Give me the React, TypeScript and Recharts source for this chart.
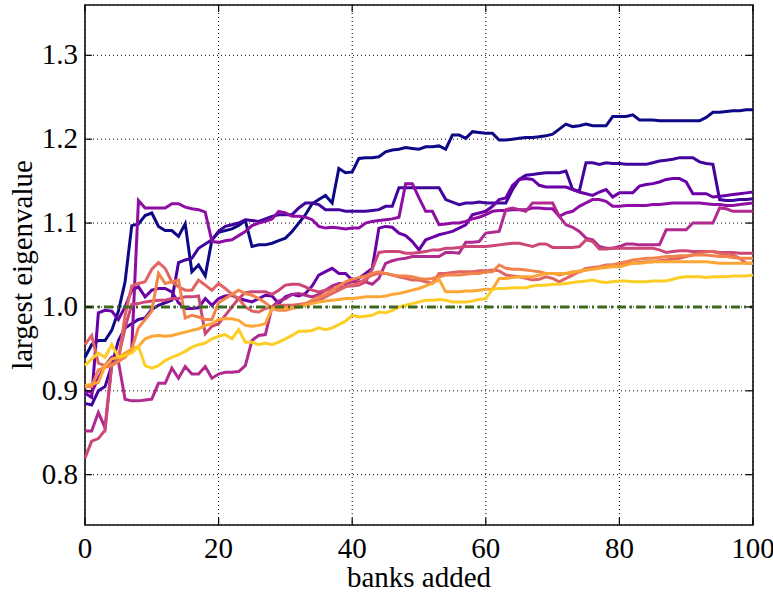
import { LineChart, Line, XAxis, YAxis, CartesianGrid, ReferenceLine, ReferenceArea } from "recharts";

// x positions: number of banks added
const banksAdded = Array.from({ length: 101 }, (_, i) => i);
const xTicks = [0, 20, 40, 60, 80, 100];
const yTicks = [0.8, 0.9, 1.0, 1.1, 1.2, 1.3];
const threshold = 1.0;

// largest eigenvalue per run
const run0 = [0.94, 0.955, 0.96, 0.96, 0.972, 0.995, 1.03, 1.097, 1.099, 1.109, 1.112, 1.096, 1.091, 1.091, 1.084, 1.099, 1.042, 1.05, 1.037, 1.08, 1.089, 1.091, 1.093, 1.097, 1.103, 1.072, 1.074, 1.074, 1.076, 1.079, 1.082, 1.09, 1.1, 1.11, 1.123, 1.128, 1.133, 1.124, 1.165, 1.16, 1.161, 1.177, 1.178, 1.178, 1.179, 1.185, 1.187, 1.188, 1.19, 1.189, 1.188, 1.191, 1.191, 1.192, 1.188, 1.205, 1.205, 1.201, 1.209, 1.208, 1.207, 1.207, 1.199, 1.199, 1.2, 1.201, 1.202, 1.202, 1.203, 1.204, 1.206, 1.212, 1.218, 1.215, 1.216, 1.218, 1.216, 1.216, 1.216, 1.227, 1.227, 1.227, 1.229, 1.223, 1.223, 1.223, 1.222, 1.222, 1.222, 1.222, 1.222, 1.222, 1.222, 1.226, 1.232, 1.232, 1.233, 1.234, 1.234, 1.235, 1.235];
const run1 = [0.885, 0.883, 0.9, 0.905, 0.93, 0.96, 0.975, 0.98, 0.985, 0.987, 0.997, 1.002, 1.005, 1.008, 1.053, 1.056, 1.058, 1.07, 1.075, 1.08, 1.09, 1.096, 1.098, 1.1, 1.104, 1.103, 1.102, 1.105, 1.108, 1.11, 1.11, 1.11, 1.118, 1.124, 1.124, 1.122, 1.116, 1.116, 1.116, 1.114, 1.114, 1.114, 1.114, 1.115, 1.116, 1.12, 1.12, 1.142, 1.142, 1.142, 1.142, 1.142, 1.142, 1.142, 1.128, 1.125, 1.122, 1.124, 1.124, 1.125, 1.124, 1.124, 1.124, 1.124, 1.14, 1.152, 1.157, 1.158, 1.159, 1.16, 1.16, 1.16, 1.162, 1.14, 1.138, 1.172, 1.172, 1.17, 1.172, 1.171, 1.171, 1.17, 1.17, 1.17, 1.17, 1.172, 1.174, 1.175, 1.176, 1.178, 1.178, 1.178, 1.173, 1.171, 1.17, 1.128, 1.127, 1.127, 1.128, 1.128, 1.129];
const run2 = [0.897, 0.892, 0.993, 0.996, 0.995, 0.985, 1.0, 1.02, 1.024, 1.012, 1.02, 1.022, 1.022, 1.018, 1.005, 0.998, 0.998, 0.999, 1.01, 1.002, 1.01, 1.013, 1.014, 1.01, 1.008, 1.006, 1.01, 1.014, 1.013, 1.004, 1.012, 1.015, 1.013, 1.016, 1.025, 1.038, 1.042, 1.046, 1.04, 1.04, 1.032, 1.034, 1.04, 1.046, 1.094, 1.096, 1.095, 1.088, 1.085, 1.078, 1.068, 1.08, 1.083, 1.086, 1.088, 1.09, 1.094, 1.098, 1.11, 1.112, 1.114, 1.12, 1.128, 1.13, 1.145, 1.152, 1.153, 1.152, 1.145, 1.143, 1.143, 1.143, 1.143, 1.14, 1.137, 1.135, 1.133, 1.137, 1.14, 1.131, 1.136, 1.136, 1.136, 1.144, 1.146, 1.147, 1.149, 1.152, 1.153, 1.153, 1.149, 1.135, 1.135, 1.135, 1.131, 1.132, 1.133, 1.134, 1.135, 1.136, 1.137];
const run3 = [0.9, 0.898, 0.915, 0.93, 0.94, 0.94, 0.942, 0.95, 1.127, 1.118, 1.118, 1.118, 1.118, 1.123, 1.123, 1.119, 1.117, 1.116, 1.113, 1.078, 1.077, 1.079, 1.08, 1.085, 1.09, 1.097, 1.1, 1.102, 1.105, 1.114, 1.112, 1.108, 1.108, 1.107, 1.104, 1.096, 1.094, 1.095, 1.094, 1.093, 1.094, 1.094, 1.1, 1.102, 1.103, 1.104, 1.105, 1.107, 1.147, 1.147, 1.13, 1.114, 1.114, 1.098, 1.099, 1.1, 1.1, 1.102, 1.105, 1.107, 1.11, 1.114, 1.115, 1.115, 1.116, 1.116, 1.116, 1.118, 1.118, 1.117, 1.117, 1.108, 1.112, 1.114, 1.12, 1.124, 1.128, 1.128, 1.126, 1.12, 1.12, 1.121, 1.121, 1.121, 1.121, 1.122, 1.122, 1.123, 1.124, 1.124, 1.124, 1.124, 1.124, 1.123, 1.122, 1.122, 1.121, 1.121, 1.122, 1.123, 1.124];
const run4 = [0.852, 0.852, 0.874, 0.856, 0.932, 0.935, 0.89, 0.888, 0.888, 0.889, 0.89, 0.909, 0.909, 0.927, 0.915, 0.929, 0.92, 0.92, 0.929, 0.915, 0.92, 0.922, 0.922, 0.923, 0.93, 0.96, 0.966, 0.967, 1.0, 1.007, 1.01, 1.015, 1.016, 1.014, 1.012, 1.015, 1.02, 1.025, 1.028, 1.028, 1.03, 1.03, 1.03, 1.027, 1.034, 1.052, 1.055, 1.057, 1.058, 1.06, 1.06, 1.06, 1.06, 1.06, 1.065, 1.065, 1.064, 1.077, 1.077, 1.078, 1.088, 1.089, 1.09, 1.116, 1.118, 1.116, 1.114, 1.124, 1.124, 1.124, 1.124, 1.108, 1.098, 1.095, 1.09, 1.082, 1.08, 1.072, 1.07, 1.07, 1.072, 1.075, 1.075, 1.074, 1.074, 1.074, 1.074, 1.092, 1.092, 1.092, 1.092, 1.1, 1.1, 1.1, 1.1, 1.118, 1.117, 1.114, 1.114, 1.114, 1.114];
const run5 = [0.82, 0.84, 0.843, 0.853, 0.93, 0.94, 0.975, 1.003, 1.004, 1.006, 1.007, 1.008, 1.008, 1.01, 1.01, 1.012, 1.012, 1.013, 0.968, 0.977, 0.98, 0.99, 1.0, 1.01, 1.017, 1.018, 1.018, 1.018, 1.015, 1.02, 1.026, 1.027, 1.027, 1.024, 1.02, 1.018, 1.02, 1.022, 1.022, 1.025, 1.025, 1.026, 1.03, 1.045, 1.065, 1.066, 1.066, 1.066, 1.064, 1.064, 1.065, 1.066, 1.068, 1.068, 1.07, 1.07, 1.071, 1.072, 1.072, 1.072, 1.072, 1.073, 1.074, 1.075, 1.076, 1.076, 1.074, 1.072, 1.075, 1.075, 1.071, 1.071, 1.071, 1.071, 1.072, 1.08, 1.078, 1.069, 1.069, 1.07, 1.07, 1.07, 1.07, 1.07, 1.07, 1.07, 1.068, 1.065, 1.066, 1.067, 1.067, 1.066, 1.066, 1.066, 1.066, 1.065, 1.065, 1.065, 1.064, 1.064, 1.064];
const run6 = [0.955, 0.966, 0.933, 0.93, 0.932, 0.935, 0.99, 1.025, 1.028, 1.03, 1.045, 1.053, 1.046, 1.03, 1.024, 1.02, 1.02, 1.032, 1.026, 1.02, 1.028, 1.022, 1.015, 1.01, 1.0, 0.995, 0.994, 0.998, 1.0, 1.002, 1.002, 1.002, 1.003, 1.004, 1.006, 1.008, 1.012, 1.016, 1.02, 1.024, 1.026, 1.028, 1.034, 1.038, 1.04, 1.04, 1.038, 1.036, 1.034, 1.032, 1.032, 1.03, 1.028, 1.04, 1.04, 1.041, 1.042, 1.042, 1.042, 1.043, 1.043, 1.044, 1.043, 1.038, 1.037, 1.036, 1.034, 1.032, 1.033, 1.036, 1.034, 1.03, 1.034, 1.038, 1.042, 1.046, 1.047, 1.048, 1.05, 1.05, 1.051, 1.052, 1.052, 1.053, 1.054, 1.054, 1.055, 1.056, 1.057, 1.058, 1.06, 1.062, 1.064, 1.066, 1.066, 1.064, 1.063, 1.062, 1.058, 1.052, 1.052];
const run7 = [0.905, 0.905, 0.925, 0.928, 0.93, 0.935, 0.94, 0.95, 0.975, 0.985, 0.995, 1.04, 1.028, 1.03, 1.032, 0.987, 0.99, 0.988, 0.985, 0.985, 1.005, 1.01, 1.015, 1.02, 1.016, 1.014, 1.01, 1.005, 0.998, 0.996, 0.996, 0.998, 1.0, 1.004, 1.008, 1.012, 1.015, 1.02, 1.025, 1.03, 1.033, 1.035, 1.037, 1.04, 1.042, 1.04, 1.038, 1.037, 1.037, 1.036, 1.034, 1.033, 1.034, 1.036, 1.038, 1.038, 1.038, 1.039, 1.04, 1.04, 1.042, 1.042, 1.05, 1.046, 1.045, 1.045, 1.044, 1.043, 1.042, 1.04, 1.04, 1.038, 1.04, 1.04, 1.042, 1.044, 1.046, 1.047, 1.049, 1.05, 1.052, 1.054, 1.056, 1.057, 1.058, 1.058, 1.059, 1.06, 1.06, 1.061, 1.061, 1.062, 1.062, 1.062, 1.061, 1.06, 1.06, 1.059, 1.058, 1.058, 1.058];
const run8 = [0.906, 0.908, 0.91, 0.93, 0.938, 0.94, 0.945, 0.95, 0.953, 0.962, 0.965, 0.966, 0.965, 0.966, 0.968, 0.97, 0.972, 0.974, 0.978, 0.98, 0.985, 0.986, 0.986, 0.984, 0.978, 0.977, 0.978, 0.98, 0.998, 0.998, 0.998, 0.999, 1.0, 1.002, 1.004, 1.006, 1.007, 1.008, 1.009, 1.01, 1.01, 1.011, 1.012, 1.012, 1.012, 1.013, 1.015, 1.016, 1.018, 1.02, 1.022, 1.025, 1.028, 1.033, 1.018, 1.018, 1.018, 1.019, 1.019, 1.02, 1.021, 1.021, 1.034, 1.034, 1.035, 1.036, 1.036, 1.036, 1.038, 1.04, 1.04, 1.04, 1.04, 1.042, 1.043, 1.044, 1.045, 1.046, 1.047, 1.048, 1.048, 1.05, 1.052, 1.052, 1.053, 1.054, 1.054, 1.054, 1.054, 1.054, 1.054, 1.054, 1.054, 1.054, 1.053, 1.052, 1.052, 1.052, 1.052, 1.052, 1.052];
const run9 = [0.93, 0.938, 0.945, 0.94, 0.955, 0.94, 0.942, 0.945, 0.953, 0.93, 0.927, 0.93, 0.936, 0.94, 0.943, 0.947, 0.952, 0.955, 0.957, 0.962, 0.965, 0.967, 0.962, 0.973, 0.958, 0.958, 0.955, 0.957, 0.955, 0.958, 0.962, 0.966, 0.971, 0.971, 0.972, 0.975, 0.973, 0.975, 0.979, 0.983, 0.99, 0.988, 0.989, 0.99, 0.994, 0.993, 0.996, 1.0, 1.002, 1.004, 1.006, 1.008, 1.008, 1.009, 1.008, 1.006, 1.006, 1.006, 1.007, 1.009, 1.01, 1.021, 1.022, 1.022, 1.023, 1.023, 1.023, 1.025, 1.026, 1.026, 1.027, 1.027, 1.028, 1.029, 1.03, 1.031, 1.032, 1.03, 1.029, 1.03, 1.031, 1.031, 1.03, 1.03, 1.03, 1.031, 1.031, 1.031, 1.033, 1.035, 1.036, 1.036, 1.036, 1.035, 1.036, 1.036, 1.036, 1.037, 1.037, 1.037, 1.038];

const runs = [run0, run1, run2, run3, run4, run5, run6, run7, run8, run9];
// plasma colormap, 10 steps
const runColors = ["#0d0887", "#41049d", "#6a00a8", "#8f0da4", "#b12a90", "#cc4778", "#e16462", "#f2844b", "#fca636", "#fcce25"];

const data = banksAdded.map((b, i) => {
  const row: Record<string, number> = { banks: b };
  runs.forEach((r, k) => { row["run" + k] = r[i]; });
  return row;
});

const W = 773;
const H = 592;
const LEFT = 85;
const RIGHT = 753;
const TOP = 5;
const BOTTOM = 525;
const FONT = "Liberation Serif, Times New Roman, serif";
const TICK = 7;

const XTick = ({ x, payload }: any) => (
  <g>
    <text x={x} y={BOTTOM + 33} textAnchor="middle" fontSize={29} style={{ fontFamily: FONT }} fill="#000">
      {payload.value}
    </text>
    <line x1={x} x2={x} y1={BOTTOM} y2={BOTTOM - TICK} stroke="#000" strokeWidth={1.2} />
    <line x1={x} x2={x} y1={TOP} y2={TOP + TICK} stroke="#000" strokeWidth={1.2} />
  </g>
);

const YTick = ({ y, payload }: any) => (
  <g>
    <text x={LEFT - 7} y={y + 9} textAnchor="end" fontSize={29} style={{ fontFamily: FONT }} fill="#000">
      {Number(payload.value).toFixed(1)}
    </text>
    <line x1={LEFT} x2={LEFT + TICK} y1={y} y2={y} stroke="#000" strokeWidth={1.2} />
    <line x1={RIGHT - TICK} x2={RIGHT} y1={y} y2={y} stroke="#000" strokeWidth={1.2} />
  </g>
);

export default function App() {
  return (
    <div style={{ position: "absolute", left: 0, top: 0, width: W, height: H, background: "#fff", fontFamily: FONT }}>
      <LineChart
        width={W}
        height={H}
        data={data}
        margin={{ top: TOP, right: W - RIGHT, bottom: 0, left: 0 }}
        style={{ fontFamily: FONT }}
      >
        <CartesianGrid stroke="#000" strokeDasharray="1 3" strokeWidth={1} />
        <XAxis
          dataKey="banks"
          type="number"
          domain={[0, 100]}
          ticks={xTicks}
          height={H - BOTTOM}
          axisLine={false}
          tickLine={false}
          tick={<XTick />}
          interval={0}
        />
        <YAxis
          type="number"
          domain={[0.74, 1.36]}
          ticks={yTicks}
          width={LEFT}
          axisLine={false}
          tickLine={false}
          tick={<YTick />}
          interval={0}
          allowDataOverflow
        />
        {runs.map((_, k) => (
          <Line
            key={k}
            type="linear"
            dataKey={"run" + k}
            stroke={runColors[k]}
            strokeWidth={3}
            dot={false}
            activeDot={false}
            isAnimationActive={false}
          />
        ))}
        <ReferenceLine y={threshold} stroke="#3c6b1e" strokeWidth={3} strokeDasharray="9 4 2 4" />
        <ReferenceArea x1={0} x2={100} y1={0.74} y2={1.36} fill="none" fillOpacity={0} stroke="#111" strokeWidth={1.6} />
      </LineChart>
      <div
        style={{
          position: "absolute",
          left: LEFT,
          top: 561,
          width: RIGHT - LEFT,
          textAlign: "center",
          fontSize: 29,
          lineHeight: "32px",
        }}
      >
        banks added
      </div>
      <div
        style={{
          position: "absolute",
          left: 22,
          top: (TOP + BOTTOM) / 2,
          transform: "translate(-50%, -50%) rotate(-90deg)",
          whiteSpace: "nowrap",
          fontSize: 29,
          lineHeight: "32px",
        }}
      >
        largest eigenvalue
      </div>
    </div>
  );
}
